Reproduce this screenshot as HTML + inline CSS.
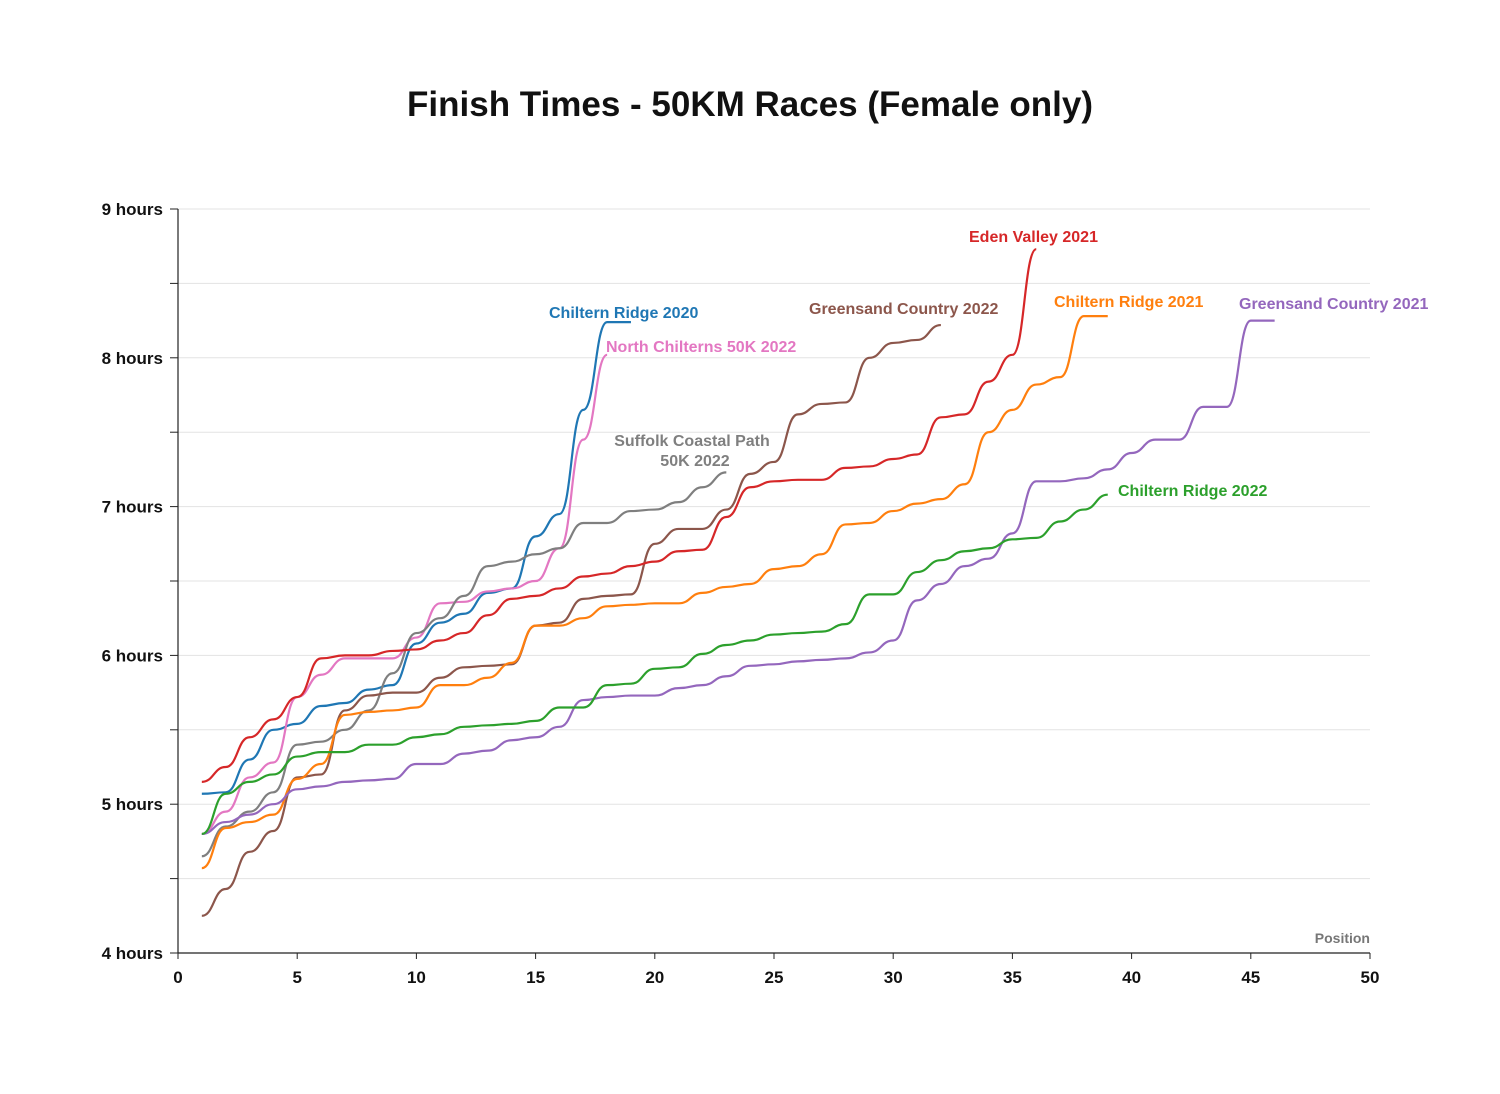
<!DOCTYPE html>
<html><head><meta charset="utf-8"><style>
body{margin:0;background:#fff;}
svg{display:block;font-family:"Liberation Sans",sans-serif;}
</style></head><body>
<svg id="chart" width="1500" height="1094" viewBox="0 0 1500 1094" xmlns="http://www.w3.org/2000/svg">
<rect width="1500" height="1094" fill="#fff"/>
<text x="750" y="116" text-anchor="middle" font-size="35" font-weight="bold" fill="#111">Finish Times - 50KM Races (Female only)</text>
<g id="grid"></g><g id="axes"></g><g id="series"></g><g id="labels"></g>
</svg>
<script>
const xTicks=[0,5,10,15,20,25,30,35,40,45,50];
const yTickLabels=["4 hours","5 hours","6 hours","7 hours","8 hours","9 hours"];
const yTicks=[4,5,6,7,8,9];
const seriesNames=["Chiltern Ridge 2020","North Chilterns 50K 2022","Suffolk Coastal Path 50K 2022","Greensand Country 2022","Eden Valley 2021","Chiltern Ridge 2021","Greensand Country 2021","Chiltern Ridge 2022"];
const seriesColors=["#1f77b4","#e377c2","#7f7f7f","#8c564b","#d62728","#ff7f0e","#9467bd","#2ca02c"];
const chilternRidge2020=[5.07,5.08,5.3,5.5,5.54,5.66,5.68,5.77,5.8,6.08,6.22,6.28,6.42,6.45,6.8,6.95,7.65,8.24,8.24];
const northChilterns2022=[4.8,4.95,5.18,5.28,5.72,5.87,5.98,5.98,5.98,6.12,6.35,6.36,6.43,6.45,6.5,6.72,7.45,8.02];
const suffolk2022=[4.65,4.85,4.95,5.08,5.4,5.42,5.5,5.63,5.88,6.15,6.25,6.4,6.6,6.63,6.68,6.72,6.89,6.89,6.97,6.98,7.03,7.13,7.23];
const greensand2022=[4.25,4.43,4.68,4.82,5.18,5.2,5.63,5.73,5.75,5.75,5.85,5.92,5.93,5.94,6.2,6.22,6.38,6.4,6.41,6.75,6.85,6.85,6.98,7.22,7.3,7.62,7.69,7.7,8.0,8.1,8.12,8.22];
const edenValley2021=[5.15,5.25,5.45,5.57,5.72,5.98,6.0,6.0,6.03,6.04,6.1,6.15,6.27,6.38,6.4,6.45,6.53,6.55,6.6,6.63,6.7,6.71,6.93,7.13,7.17,7.18,7.18,7.26,7.27,7.32,7.35,7.6,7.62,7.84,8.02,8.73];
const chilternRidge2021=[4.57,4.84,4.88,4.93,5.17,5.27,5.6,5.62,5.63,5.65,5.8,5.8,5.85,5.95,6.2,6.2,6.25,6.33,6.34,6.35,6.35,6.42,6.46,6.48,6.58,6.6,6.68,6.88,6.89,6.97,7.02,7.05,7.15,7.5,7.65,7.82,7.87,8.28,8.28];
const greensand2021=[4.8,4.88,4.93,5.0,5.1,5.12,5.15,5.16,5.17,5.27,5.27,5.34,5.36,5.43,5.45,5.52,5.7,5.72,5.73,5.73,5.78,5.8,5.86,5.93,5.94,5.96,5.97,5.98,6.02,6.1,6.37,6.48,6.6,6.65,6.82,7.17,7.17,7.19,7.25,7.36,7.45,7.45,7.67,7.67,8.25,8.25];
const chilternRidge2022=[4.8,5.07,5.15,5.2,5.32,5.35,5.35,5.4,5.4,5.45,5.47,5.52,5.53,5.54,5.56,5.65,5.65,5.8,5.81,5.91,5.92,6.01,6.07,6.1,6.14,6.15,6.16,6.21,6.41,6.41,6.56,6.64,6.7,6.72,6.78,6.79,6.9,6.98,7.08];
const allSeries=[chilternRidge2020,northChilterns2022,suffolk2022,greensand2022,edenValley2021,chilternRidge2021,greensand2021,chilternRidge2022];

const NS="http://www.w3.org/2000/svg";
const X0=178,X1=1370,Y0=953,Y1=209;
const xs=v=>X0+(v-0)/(50-0)*(X1-X0);
const ys=v=>Y0-(v-4)/(9-4)*(Y0-Y1);
function mk(tag,attrs,parent){const e=document.createElementNS(NS,tag);for(const k in attrs)e.setAttribute(k,attrs[k]);parent.appendChild(e);return e;}
const grid=document.getElementById('grid'),axes=document.getElementById('axes'),ser=document.getElementById('series'),lab=document.getElementById('labels');
for(let h=4.5;h<=9.001;h+=0.5){
  const g=mk('line',{x1:X0,x2:X1,y1:ys(h),y2:ys(h),stroke:'#e3e3e3','stroke-width':1},grid);
  
  
}
for(let h=4;h<=9.001;h+=0.5){
  const t=mk('line',{x1:X0-8,x2:X0,y1:ys(h),y2:ys(h),stroke:'#222','stroke-width':1},axes);
  
  
}
const ya=mk('line',{x1:X0,x2:X0,y1:Y1,y2:Y0,stroke:'#222','stroke-width':1.2},axes);


const xa=mk('line',{x1:X0,x2:X1,y1:Y0,y2:Y0,stroke:'#222','stroke-width':1.2},axes);


yTicks.forEach((v,i)=>{
  const t=mk('text',{x:163,y:ys(v)+6,'text-anchor':'end','font-size':17,'font-weight':'bold',fill:'#111'},axes);
  t.textContent=yTickLabels[i];
  
  
});
xTicks.forEach(v=>{
  const l=mk('line',{x1:xs(v),x2:xs(v),y1:Y0,y2:Y0+6,stroke:'#222','stroke-width':1},axes);
  
  
  const t=mk('text',{x:xs(v),y:983,'text-anchor':'middle','font-size':17,'font-weight':'bold',fill:'#111'},axes);
  t.textContent=v;
  
  
});
const pl=mk('text',{x:1370,y:943,'text-anchor':'end','font-size':14,'font-weight':'bold',fill:'#777'},axes);
pl.textContent='Position';


allSeries.forEach((arr,si)=>{
  let d='M'+xs(1)+','+ys(arr[0]);
  for(let i=1;i<arr.length;i++){
    const xa0=xs(i),xb=xs(i+1),xm=(xa0+xb)/2,ya0=ys(arr[i-1]),yb=ys(arr[i]);
    d+=' C'+xm+','+ya0+' '+xm+','+yb+' '+xb+','+yb;
  }
  const p=mk('path',{d:d,fill:'none',stroke:seriesColors[si],'stroke-width':2.2},ser);
  
  
});
const labelPos=[[549,318,'start'],[606,352,'start'],[692,446,'middle'],[809,314,'start'],[969,242,'start'],[1054,307,'start'],[1239,309,'start'],[1118,496,'start']];
labelPos.forEach((lp,i)=>{
  const t=mk('text',{x:lp[0],y:lp[1],'text-anchor':lp[2],'font-size':16,'font-weight':'bold',fill:seriesColors[i]},lab);
  if(i===2){
    t.textContent='Suffolk Coastal Path';
    const t2=mk('text',{x:695,y:466,'text-anchor':'middle','font-size':16,'font-weight':'bold',fill:seriesColors[i]},lab);
    t2.textContent='50K 2022';
    
    
  } else t.textContent=seriesNames[i];
  
  
});
</script>
</body></html>
